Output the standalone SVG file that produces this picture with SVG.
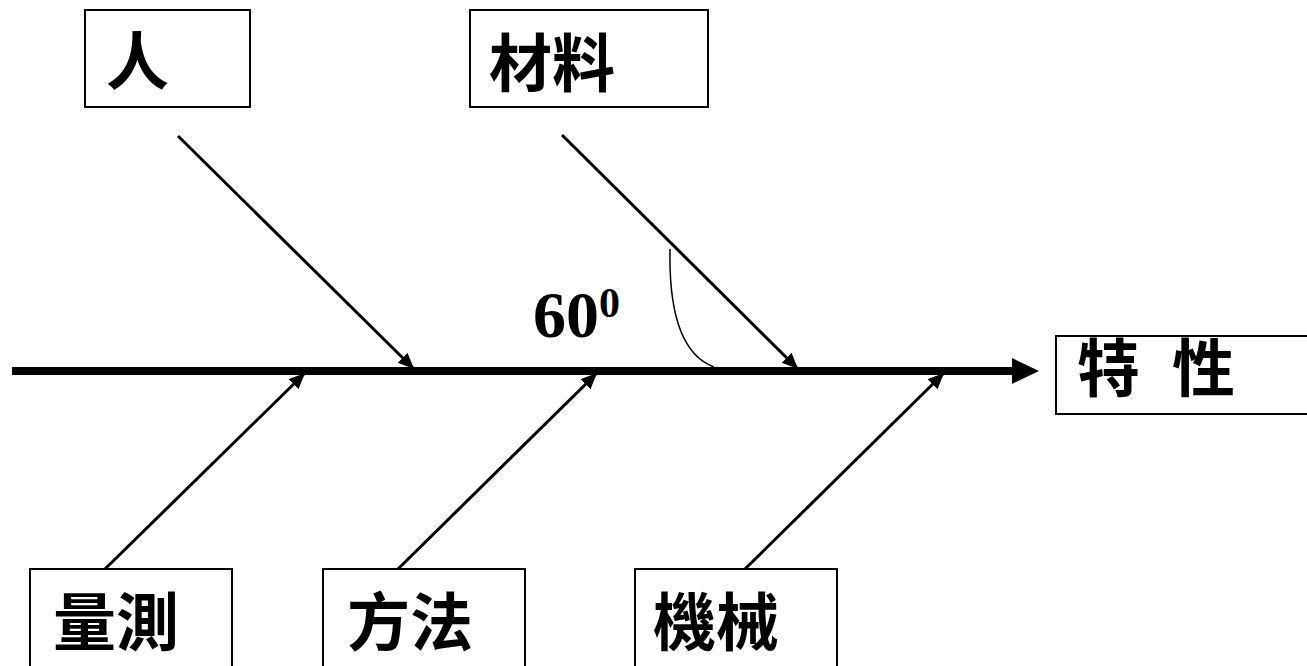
<svg xmlns="http://www.w3.org/2000/svg" width="1307" height="666" viewBox="0 0 1307 666">
<style>
.box{fill:#fff;stroke:#000;stroke-width:2}
.cjk{font-family:"Noto Sans CJK TC","Noto Sans CJK SC",sans-serif;font-weight:bold;font-size:63px;fill:#000}
.br{stroke:#000;stroke-width:3;fill:none;marker-end:url(#ah)}
</style>
<defs>
<marker id="ah" markerUnits="userSpaceOnUse" markerWidth="20" markerHeight="16" refX="16" refY="7" orient="auto">
<path d="M0,0 L16,7 L0,14 Z" fill="#000"/>
</marker>
</defs>
<g id="connectors">
<line x1="12" y1="371" x2="1015" y2="371" stroke="#000" stroke-width="8"/>
<path d="M1012,358 L1039,371 L1012,384 Z" fill="#000"/>
<line class="br" x1="178" y1="136" x2="414" y2="369"/>
<line class="br" x1="562" y1="135" x2="798" y2="369"/>
<line class="br" x1="105" y1="569" x2="305" y2="373"/>
<line class="br" x1="398" y1="569" x2="597" y2="373"/>
<line class="br" x1="745" y1="569" x2="944" y2="373"/>
<path d="M670,249 Q668,350 714,367" fill="none" stroke="#000" stroke-width="1.5"/>
</g>
<g id="angle-label">
<text x="533" y="337" font-family="'Liberation Serif',serif" font-weight="bold" font-size="66">60<tspan font-size="42" dy="-20">0</tspan></text>
</g>
<g id="node-ren">
<rect class="box" x="85" y="10" width="165" height="97"/>
<text class="cjk" x="106" y="84">人</text>
</g>
<g id="node-cailiao">
<rect class="box" x="470" y="10" width="238" height="97"/>
<text class="cjk" x="489" y="86">材料</text>
</g>
<g id="node-texing">
<rect class="box" x="1056" y="336" width="260" height="78"/>
<text class="cjk" x="1077" y="391">特</text>
<text class="cjk" x="1172" y="391">性</text>
</g>
<g id="node-liangce">
<rect class="box" x="30" y="569" width="202" height="110"/>
<text class="cjk" x="53" y="645">量測</text>
</g>
<g id="node-fangfa">
<rect class="box" x="323" y="569" width="202" height="110"/>
<text class="cjk" x="347" y="645">方法</text>
</g>
<g id="node-jixie">
<rect class="box" x="635" y="569" width="202" height="110"/>
<text class="cjk" x="653" y="645">機械</text>
</g>
</svg>
